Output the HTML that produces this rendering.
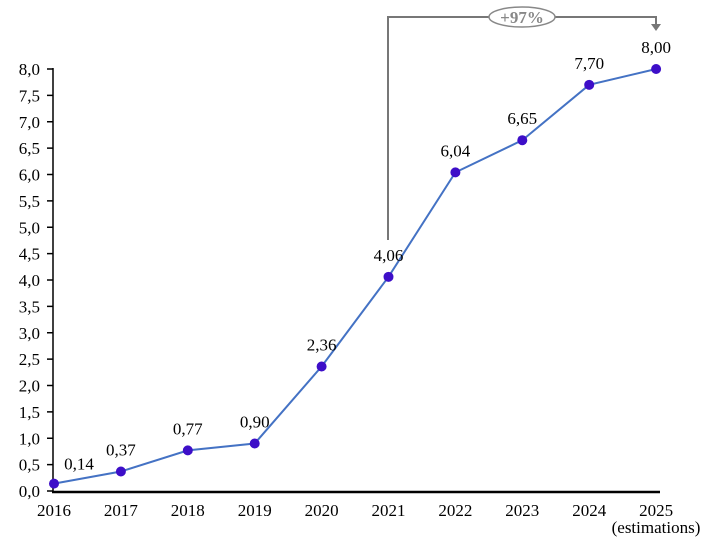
<!DOCTYPE html>
<html><head><style>body{margin:0;background:#fff}</style></head><body>
<svg width="722" height="553" xmlns="http://www.w3.org/2000/svg" font-family="Liberation Serif, serif" font-size="17">
<g stroke="#000" stroke-width="1.5">
<line x1="53" y1="68" x2="53" y2="492"/>
<line x1="52" y1="492" x2="660" y2="492" stroke-width="2.5"/>
</g>
<g id="yt" text-anchor="end" fill="#000"></g>
<g stroke="#777" stroke-width="2" fill="none">
<polyline points="388,240 388,17 656,17 656,25"/>
</g>
<polygon points="651,24 661,24 656,31" fill="#777"/>
<ellipse cx="522" cy="17" rx="33" ry="10" fill="#fff" stroke="#888" stroke-width="1.5"/>
<text x="522" y="23" text-anchor="middle" font-size="17" font-weight="bold" fill="#888">+97%</text>
<g id="d"></g>
<text x="656" y="533" text-anchor="middle" font-size="17">(estimations)</text>
<script>
var ns="http://www.w3.org/2000/svg",yt=document.getElementById('yt'),d=document.getElementById('d');
function Y(v){return 491-v*52.75}
for(var i=0;i<=16;i++){var v=i*0.5,y=Y(v);
var l=document.createElementNS(ns,'line');l.setAttribute('x1',47);l.setAttribute('x2',53);l.setAttribute('y1',y);l.setAttribute('y2',y);l.setAttribute('stroke','#000');l.setAttribute('stroke-width','1.5');yt.appendChild(l);
var t=document.createElementNS(ns,'text');t.setAttribute('x',40);t.setAttribute('y',y+6);t.textContent=v.toFixed(1).replace('.',',');yt.appendChild(t);}
var vals=[0.14,0.37,0.77,0.90,2.36,4.06,6.04,6.65,7.70,8.00],pts=[];
vals.forEach(function(v,i){pts.push((54+i*66.9)+','+Y(v))});
var pl=document.createElementNS(ns,'polyline');pl.setAttribute('points',pts.join(' '));pl.setAttribute('fill','none');pl.setAttribute('stroke','#4472C4');pl.setAttribute('stroke-width','2');d.appendChild(pl);
vals.forEach(function(v,i){var x=54+i*66.9,y=Y(v);
var c=document.createElementNS(ns,'circle');c.setAttribute('cx',x);c.setAttribute('cy',y);c.setAttribute('r',5);c.setAttribute('fill','#3D0EC8');d.appendChild(c);
var t=document.createElementNS(ns,'text');t.setAttribute('x',i==0?79:x);t.setAttribute('y',i==0?y-14:y-16);t.setAttribute('text-anchor','middle');t.textContent=v.toFixed(2).replace('.',',');d.appendChild(t);
var y2=document.createElementNS(ns,'text');y2.setAttribute('x',x);y2.setAttribute('y',516);y2.setAttribute('text-anchor','middle');y2.textContent=2016+i;d.appendChild(y2);});
</script>
</svg>
</body></html>
